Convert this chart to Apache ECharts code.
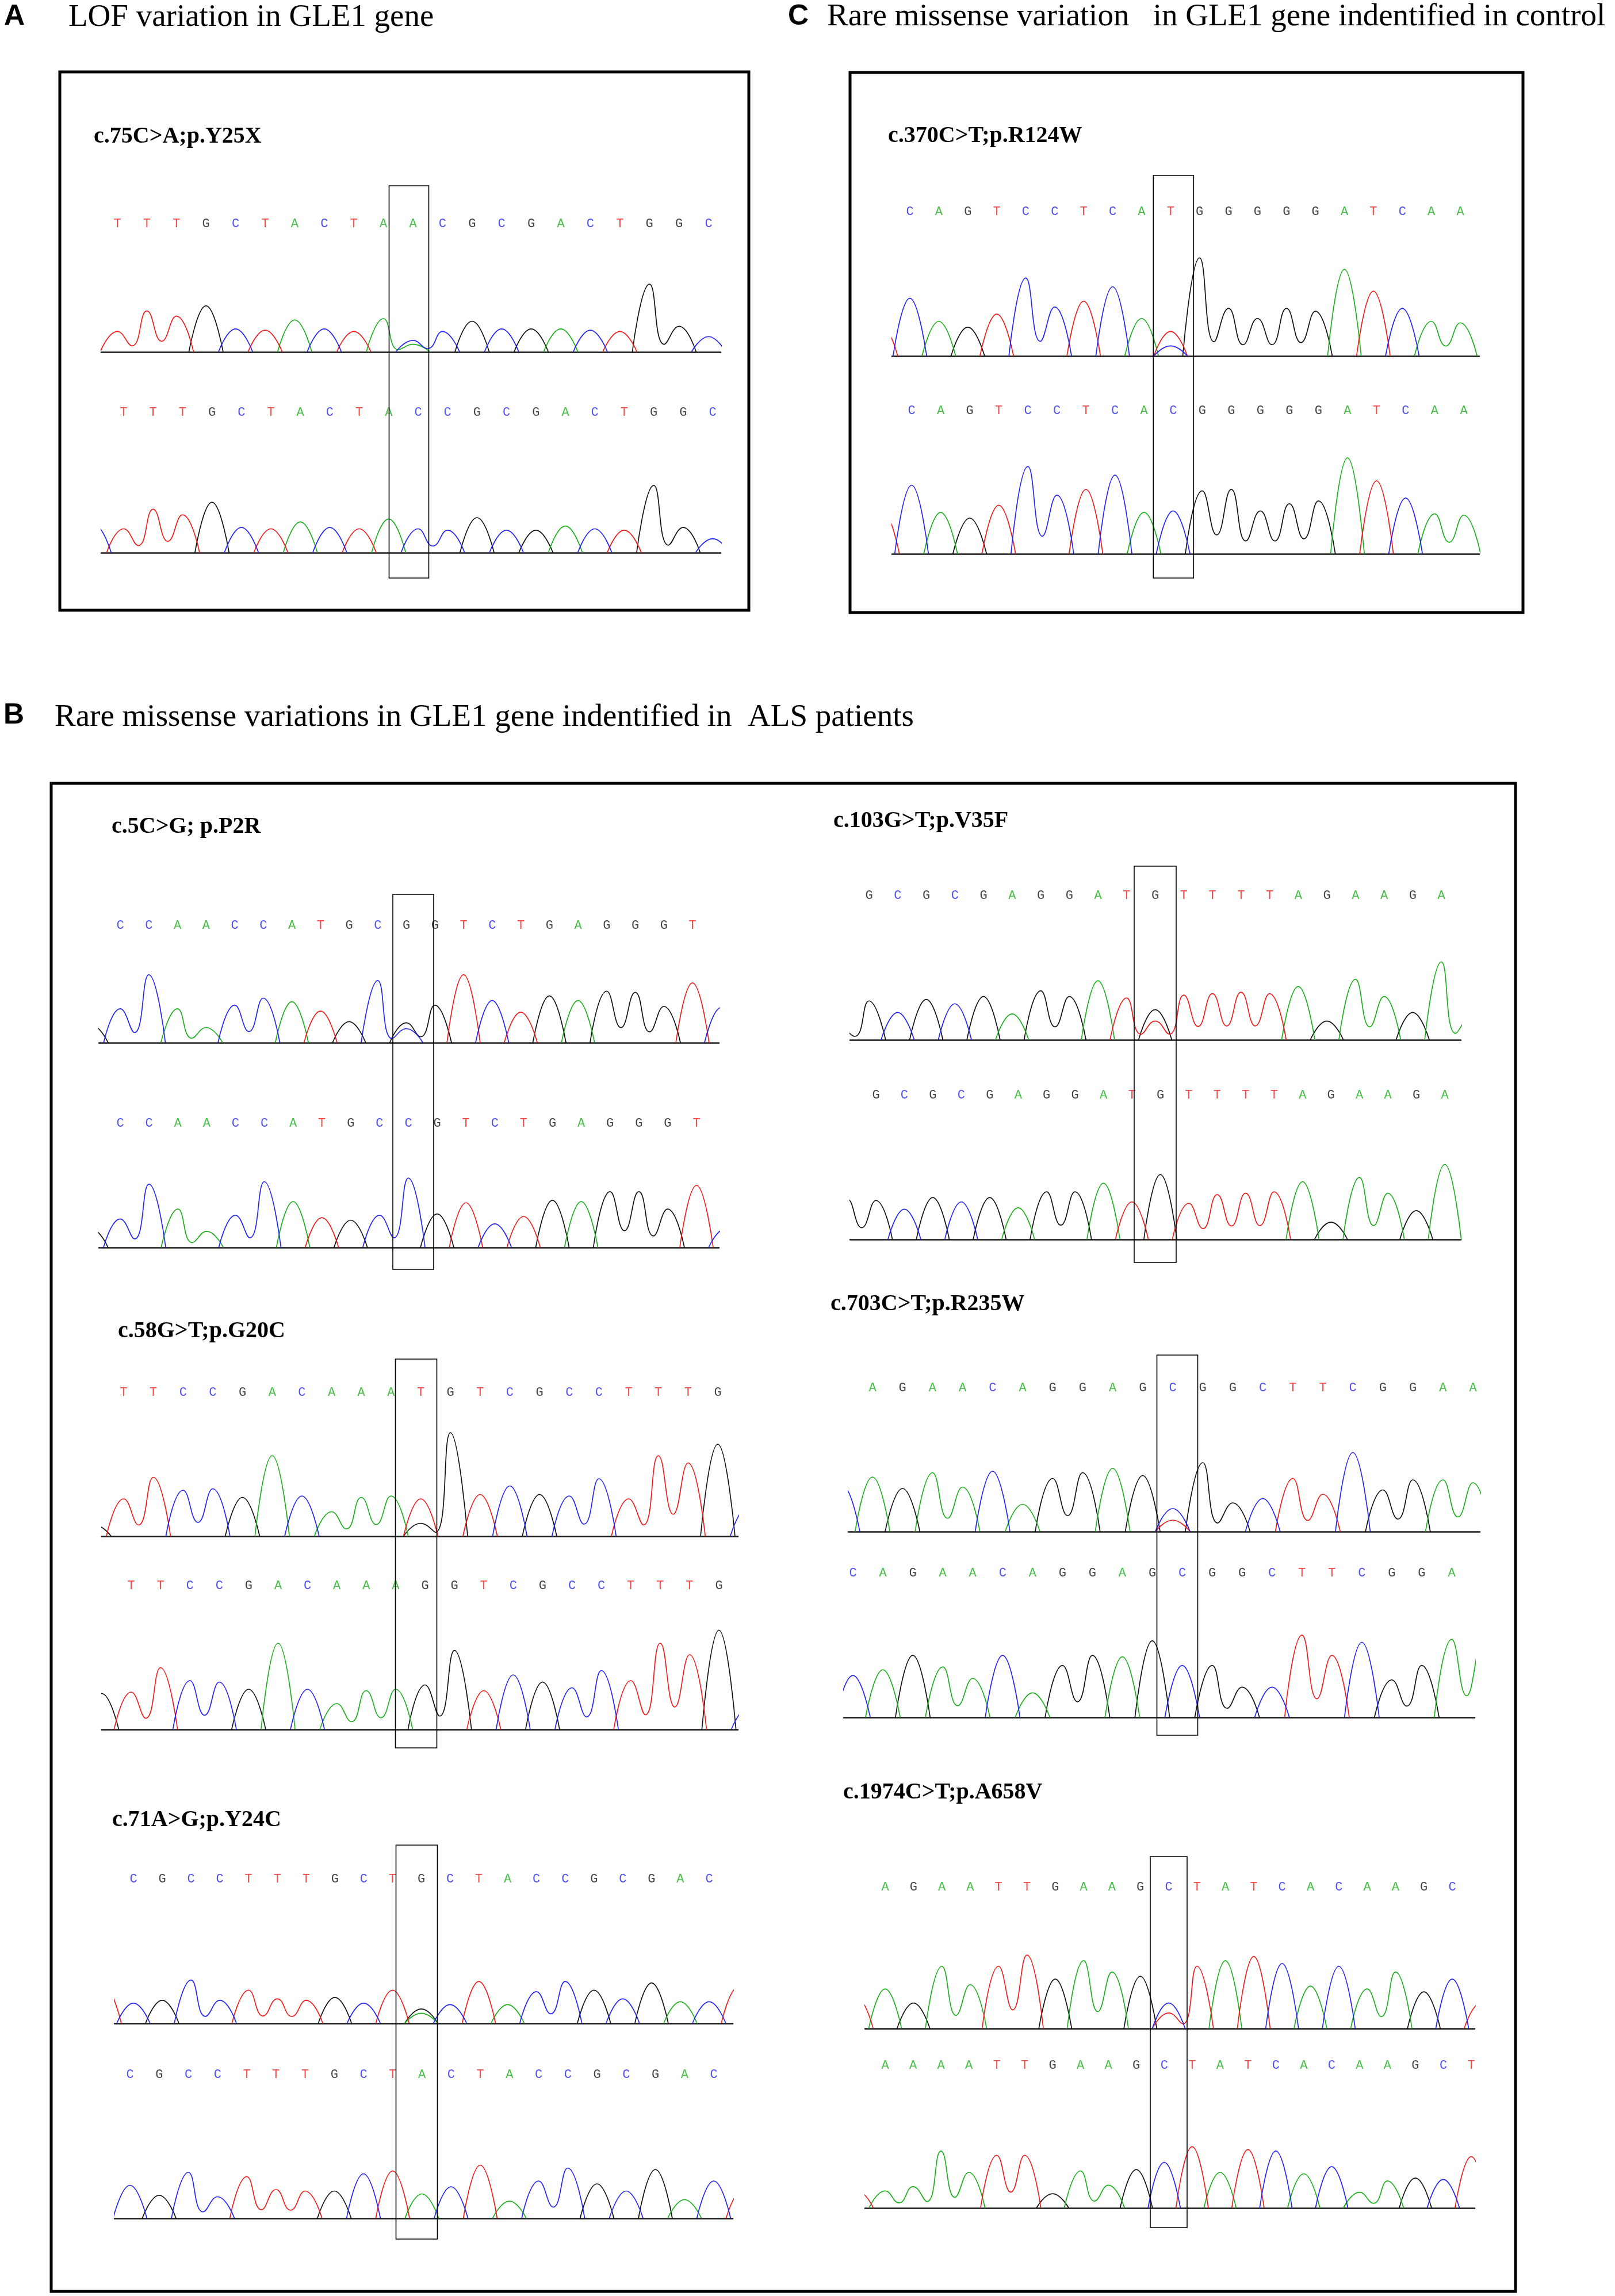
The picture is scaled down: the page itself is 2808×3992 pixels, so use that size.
<!DOCTYPE html>
<html><head><meta charset="utf-8">
<script src="https://cdn.jsdelivr.net/npm/echarts/dist/echarts.min.js"></script>
<style>html,body{margin:0;padding:0;background:#fff}#c{width:2808px;height:3992px}</style>
</head><body><div id="c"></div>
<script>
// ---------------- DATA ----------------
// Sequences: uppercase = called (labelled) base, lowercase = partial peak at the trace edge (no label)
// Peaks: height of the called peak, in % of the distance baseline -> base-letter row
const panelLetters = ['A', 'C', 'B'];
const panelTitles = [
  'LOF variation in GLE1 gene',
  'Rare missense variation   in GLE1 gene indentified in control',
  'Rare missense variations in GLE1 gene indentified in  ALS patients'
];
const mutationLabels = ['c.75C>A;p.Y25X', 'c.370C>T;p.R124W', 'c.5C>G; p.P2R', 'c.58G>T;p.G20C',
  'c.71A>G;p.Y24C', 'c.103G>T;p.V35F', 'c.703C>T;p.R235W', 'c.1974C>T;p.A658V'];

// Panel A  c.75C>A
const A_mut_seq = 'TTTGCTACTAACGCGACTGGC';
const A_mut_peaks = [16,32,28,36,18,17,25,18,16,26,6,16,24,18,18,18,17,16,53,20,12];
const A_mut_second = { idx: 10, base: 'C', h: 9 };
const A_wt_seq = 'cTTTGCTACTACCGCGACTGGC';
const A_wt_peaks = [20,17,31,27,36,18,17,22,18,17,24,17,16,25,16,16,19,17,16,48,18,10];

// Panel C  c.370C>T
const C_mut_seq = 'tCAGTCCTCATGGGGGATCAA';
const C_mut_peaks = [22,40,24,20,29,54,34,38,48,26,17,68,33,26,33,31,60,45,33,24,23];
const C_mut_second = { idx: 10, base: 'C', h: 7 };
const C_wt_seq = 'tCAGTCCTCACGGGGGATCAA';
const C_wt_peaks = [30,48,29,25,34,61,41,45,55,29,30,44,45,30,35,37,67,51,39,28,27];

// Panel B1  c.5C>G
const B1_mut_seq = 'gCCAACCATGCGGTCTGAGGGTc';
const B1_mut_peaks = [15,29,58,29,13,32,38,35,27,18,53,17,32,58,36,26,40,36,44,43,31,51,30];
const B1_mut_second = { idx: 11, base: 'C', h: 12 };
const B1_wt_seq = 'gCCAACCATGCCGTCTGAGGGTc';
const B1_wt_peaks = [15,23,51,31,13,26,53,37,24,22,26,56,27,36,19,25,38,37,45,45,31,50,15];

// Panel B2  c.58G>T
const B2_mut_seq = 'gTTCCGACAAATGTCGCCTTTGc';
const B2_mut_peaks = [8,26,41,32,33,27,56,28,17,27,28,26,72,29,35,29,28,40,26,56,51,64,20];
const B2_mut_second = { idx: 11, base: 'G', h: 9 };
const B2_wt_seq = 'gTTCCGACAAAGGTCGCCTTTGc';
const B2_wt_peaks = [25,26,43,34,33,28,60,28,18,27,28,31,55,27,38,33,29,41,34,60,52,69,15];

// Panel B3  c.71A>G
const B3_mut_seq = 'tCGCCTTTGCTGCTACCGCGACt';
const B3_mut_peaks = [25,14,16,30,16,23,17,16,18,14,23,10,13,29,13,22,29,23,17,28,15,15,25];
const B3_mut_second = { idx: 11, base: 'A', h: 7 };
const B3_wt_seq = 'CGCCTTTGCTACTACCGCGACt';
const B3_wt_peaks = [23,16,32,15,29,20,19,19,31,33,17,22,37,12,26,35,24,19,34,13,26,20];

// Panel B4  c.103G>T
const B4_mut_seq = 'gGCGCGAGGATGTTTTAGAAGAa';
const B4_mut_peaks = [8,27,19,28,25,30,18,34,30,41,29,21,31,32,33,32,37,13,42,30,19,54,15];
const B4_mut_second = { idx: 11, base: 'T', h: 13 };
const B4_wt_seq = 'gGCGCGAGGATGTTTTAGAAGA';
const B4_wt_peaks = [28,27,21,29,26,29,22,33,33,39,26,45,25,31,32,33,40,12,43,32,20,52];

// Panel B5  c.703C>T
const B5_mut_seq = 'cAGAACAGGAGCGGCTTCGGAA';
const B5_mut_peaks = [32,38,30,41,31,42,19,37,41,44,39,16,48,20,23,37,26,55,29,36,36,34];
const B5_mut_second = { idx: 11, base: 'T', h: 8 };
const B5_wt_seq = 'CAGAACAGGAGCGGCTTCGGAa';
const B5_wt_peaks = [29,33,43,35,27,43,17,36,43,42,53,36,36,21,21,57,43,52,26,36,54,50];

// Panel B6  c.1974C>T
const B6_mut_seq = 'tAGAATTGAAGCTATCACAAGCt';
const B6_mut_peaks = [22,28,18,44,31,44,52,35,48,40,37,18,44,48,51,46,30,44,28,40,26,35,18];
const B6_mut_second = { idx: 11, base: 'T', h: 11 };
const B6_wt_seq = 'tAAAATTGAAGCTATCACAAGCT';
const B6_wt_peaks = [12,12,15,40,25,37,37,10,26,16,27,32,43,25,41,40,24,29,11,19,21,20,36];

// ---------------- LAYOUT / STYLE ----------------
const BASE_COLORS = { A: '#1bb01b', C: '#2424f0', G: '#111111', T: '#f01c1c' };
const HALF = 0.58;      // half width of a peak foot, in base spacings
const VALLEY = 0.3;     // valley level between two same-base neighbours

const SUB = [
  { label: 0, lx: 163, ly: 238,
    mut: { seq: A_mut_seq, peaks: A_mut_peaks, sec: A_mut_second, letterY: 389, baseY: 612, L: 176, R: 1253, xf: 204, xl: 1232 },
    wt:  { seq: A_wt_seq, peaks: A_wt_peaks, letterY: 717, baseY: 961, L: 176, R: 1253, xf: 215, xl: 1239 },
    rect: { y0: 323, y1: 1005, w: 69, dx: -7 } },
  { label: 1, lx: 1544, ly: 237,
    mut: { seq: C_mut_seq, peaks: C_mut_peaks, sec: C_mut_second, letterY: 368, baseY: 619, L: 1551, R: 2572, xf: 1582, xl: 2539 },
    wt:  { seq: C_wt_seq, peaks: C_wt_peaks, letterY: 714, baseY: 963, L: 1551, R: 2572, xf: 1585, xl: 2545 },
    rect: { y0: 305, y1: 1005, w: 70, dx: 5 } },
  { label: 2, lx: 194, ly: 1438,
    mut: { seq: B1_mut_seq, peaks: B1_mut_peaks, sec: B1_mut_second, letterY: 1609, baseY: 1813, L: 172, R: 1250, xf: 209, xl: 1204 },
    wt:  { seq: B1_wt_seq, peaks: B1_wt_peaks, letterY: 1953, baseY: 2169, L: 172, R: 1250, xf: 209, xl: 1211 },
    rect: { y0: 1555, y1: 2207, w: 71, dx: 12 } },
  { label: 3, lx: 205, ly: 2315,
    mut: { seq: B2_mut_seq, peaks: B2_mut_peaks, sec: B2_mut_second, letterY: 2421, baseY: 2671, L: 177, R: 1283, xf: 215, xl: 1248 },
    wt:  { seq: B2_wt_seq, peaks: B2_wt_peaks, letterY: 2757, baseY: 3007, L: 177, R: 1283, xf: 228, xl: 1250 },
    rect: { y0: 2363, y1: 3039, w: 72, dx: -8 } },
  { label: 4, lx: 195, ly: 3165,
    mut: { seq: B3_mut_seq, peaks: B3_mut_peaks, sec: B3_mut_second, letterY: 3267, baseY: 3518, L: 199, R: 1274, xf: 232, xl: 1233 },
    wt:  { seq: B3_wt_seq, peaks: B3_wt_peaks, letterY: 3607, baseY: 3857, L: 199, R: 1274, xf: 226, xl: 1241 },
    rect: { y0: 3208, y1: 3893, w: 72, dx: -8 } },
  { label: 5, lx: 1449, ly: 1428,
    mut: { seq: B4_mut_seq, peaks: B4_mut_peaks, sec: B4_mut_second, letterY: 1557, baseY: 1808, L: 1478, R: 2540, xf: 1511, xl: 2506 },
    wt:  { seq: B4_wt_seq, peaks: B4_wt_peaks, letterY: 1904, baseY: 2155, L: 1478, R: 2540, xf: 1523, xl: 2512 },
    rect: { y0: 1506, y1: 2195, w: 73, dx: 0 } },
  { label: 6, lx: 1444, ly: 2268,
    mut: { seq: B5_mut_seq, peaks: B5_mut_peaks, sec: B5_mut_second, letterY: 2413, baseY: 2663, L: 1475, R: 2573, xf: 1517, xl: 2561 },
    wt:  { seq: B5_wt_seq, peaks: B5_wt_peaks, letterY: 2735, baseY: 2986, L: 1467, R: 2564, xf: 1483, xl: 2524 },
    rect: { y0: 2356, y1: 3017, w: 71, dx: 8 } },
  { label: 7, lx: 1466, ly: 3117,
    mut: { seq: B6_mut_seq, peaks: B6_mut_peaks, sec: B6_mut_second, letterY: 3281, baseY: 3527, L: 1504, R: 2564, xf: 1539, xl: 2525 },
    wt:  { seq: B6_wt_seq, peaks: B6_wt_peaks, letterY: 3591, baseY: 3839, L: 1504, R: 2564, xf: 1539, xl: 2558 },
    rect: { y0: 3228, y1: 3873, w: 64, dx: 0 } }
];

function channelPoints(seq, peaks, sec, ch) {
  const n = seq.length, h = [];
  for (let k = 0; k < n; k++) {
    let v = seq[k].toUpperCase() === ch ? peaks[k] : 0;
    if (sec && sec.idx === k && sec.base === ch) v = Math.max(v, sec.h);
    h.push(v);
  }
  const pts = [];
  for (let k = 0; k < n; k++) {
    if (h[k] <= 0) continue;
    const prevOn = k > 0 && h[k - 1] > 0;
    if (!prevOn) { if (pts.length) pts.push([k - 0.75, '-']); pts.push([k - HALF, 0]); }
    pts.push([k, h[k]]);
    const nextOn = k < n - 1 && h[k + 1] > 0;
    if (nextOn) pts.push([k + 0.5, VALLEY * Math.min(h[k], h[k + 1])]);
    else pts.push([k + HALF, 0]);
  }
  return pts;
}

const grids = [], xAxes = [], yAxes = [], series = [];
const traceInfo = [];
SUB.forEach((sp, si) => {
  [sp.mut, sp.wt].forEach((tr, ti) => {
    const gi = grids.length;
    let i0 = 0; while (tr.seq[i0] !== tr.seq[i0].toUpperCase()) i0++;
    let i1 = tr.seq.length - 1; while (tr.seq[i1] !== tr.seq[i1].toUpperCase()) i1--;
    const per = (tr.xl - tr.xf) / (i1 - i0);
    grids.push({ left: tr.L, top: tr.letterY, width: tr.R - tr.L, height: tr.baseY - tr.letterY, containLabel: false });
    xAxes.push({ type: 'value', gridIndex: gi, min: i0 - (tr.xf - tr.L) / per, max: i1 + (tr.R - tr.xl) / per,
      axisLine: { show: true, onZero: false, lineStyle: { color: '#1a1a1a', width: 2.5 } },
      axisTick: { show: false }, axisLabel: { show: false }, splitLine: { show: false } });
    yAxes.push({ type: 'value', gridIndex: gi, min: 0, max: 100, show: false, splitLine: { show: false } });
    ['G', 'A', 'T', 'C'].forEach(ch => {
      series.push({ type: 'line', xAxisIndex: gi, yAxisIndex: gi, data: channelPoints(tr.seq, tr.peaks, tr.sec, ch),
        smooth: 0.5, showSymbol: false, symbol: 'none', connectNulls: false, clip: true,
        lineStyle: { color: BASE_COLORS[ch], width: 1.7 }, silent: true, z: 3 });
    });
    const letters = [];
    for (let k = 0; k < tr.seq.length; k++) {
      const b = tr.seq[k];
      if (b !== b.toUpperCase()) continue;
      letters.push({ value: [k, 100], name: b, label: { color: BASE_COLORS[b] } });
    }
    series.push({ type: 'scatter', xAxisIndex: gi, yAxisIndex: gi, data: letters, symbolSize: 0, clip: false, silent: true,
      label: { show: true, position: 'inside', formatter: p => p.name, fontFamily: '"Liberation Mono", monospace', fontSize: 22 }, z: 4 });
    traceInfo.push({ gi, si, ti });
  });
});

const chart = echarts.init(document.getElementById('c'), null, { renderer: 'canvas' });
chart.setOption({ animation: false, backgroundColor: '#fff', grid: grids, xAxis: xAxes, yAxis: yAxes, series });

// ---------------- frames, titles, highlight boxes ----------------
const serif = '"Liberation Serif", "Times New Roman", serif';
const sans = '"Liberation Sans", Arial, sans-serif';
const g = [];
function txt(x, y, text, font) {
  g.push({ type: 'text', x, y, style: { text, font, fill: '#000', align: 'left', verticalAlign: 'middle' }, z: 10 });
}
function box(x0, y0, x1, y1, lw) {
  g.push({ type: 'rect', shape: { x: x0, y: y0, width: x1 - x0, height: y1 - y0 },
    style: { fill: 'none', stroke: '#000', lineWidth: lw }, z: 10 });
}
txt(7, 29, panelLetters[0], 'bold 50px ' + sans);
txt(119, 31, panelTitles[0], '55px ' + serif);
txt(1370, 29, panelLetters[1], 'bold 50px ' + sans);
txt(1438, 30, panelTitles[1], '55px ' + serif);
txt(6, 1244, panelLetters[2], 'bold 50px ' + sans);
txt(95, 1248, panelTitles[2], '55px ' + serif);
box(104, 125, 1302, 1061, 5);
box(1478, 126, 2648, 1065, 5);
box(89, 1362, 2635, 3984, 5);
SUB.forEach((sp, si) => {
  txt(sp.lx, sp.ly, mutationLabels[sp.label], 'bold 40px ' + serif);
  const top = traceInfo.find(t => t.si === si && t.ti === 0);
  const px = chart.convertToPixel({ gridIndex: top.gi }, [sp.mut.sec.idx, 0]);
  const cx = px[0] + sp.rect.dx;
  box(cx - sp.rect.w / 2, sp.rect.y0, cx + sp.rect.w / 2, sp.rect.y1, 1.6);
});
chart.setOption({ graphic: g });
</script></body></html>
